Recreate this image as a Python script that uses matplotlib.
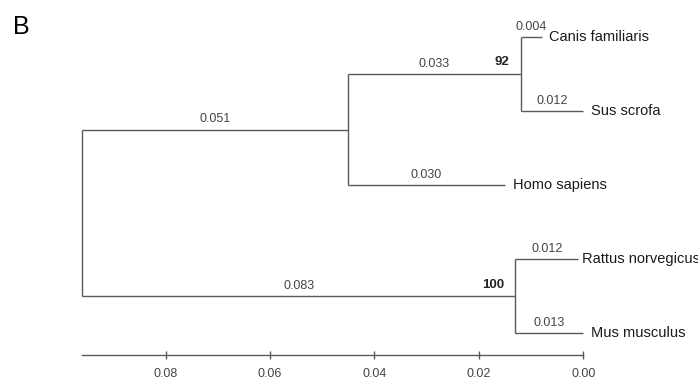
import matplotlib
matplotlib.use("Agg")
import matplotlib.pyplot as plt

plt.rcParams['font.family'] = ['Liberation Sans', 'DejaVu Sans']

# Tree data (branch lengths)
leaves = ["Canis familiaris", "Sus scrofa", "Homo sapiens", "Rattus norvegicus", "Mus musculus"]
root_to_upper = 0.051
upper_to_cs = 0.033
cs_to_canis = 0.004
cs_to_sus = 0.012
upper_to_homo = 0.030
root_to_lower = 0.083
lower_to_rattus = 0.012
lower_to_mus = 0.013
bootstrap_cs = "92"
bootstrap_lower = "100"
tick_values = [0.08, 0.06, 0.04, 0.02, 0.00]
tick_labels = ["0.08", "0.06", "0.04", "0.02", "0.00"]

total_depth = root_to_upper + upper_to_cs + cs_to_sus  # 0.096

fig = plt.figure(figsize=(6.98, 3.81), dpi=100)
ax = fig.add_axes([0, 0, 1, 1])
ax.set_xlim(0.1117, -0.02197)
ax.set_ylim(4.642, -0.4993)

lc = '#5a5a5a'
tc = '#444444'
lw = 1.0

def X(dist):
    return total_depth - dist

# y positions
y_leaf = {name: i for i, name in enumerate(leaves)}
y_cs = (y_leaf["Canis familiaris"] + y_leaf["Sus scrofa"]) / 2
y_upper = (y_cs + y_leaf["Homo sapiens"]) / 2
y_lower = (y_leaf["Rattus norvegicus"] + y_leaf["Mus musculus"]) / 2

d_root = 0.0
d_upper = root_to_upper
d_cs = d_upper + upper_to_cs
d_lower = root_to_lower

def hline(d0, d1, y, label):
    ax.plot([X(d0), X(d1)], [y, y], color=lc, lw=lw, solid_capstyle='butt')
    ax.annotate(label, xy=((X(d0) + X(d1)) / 2, y), xytext=(0, 3),
                textcoords='offset points', ha='center', va='bottom',
                fontsize=9, color=tc)

def vline(d, y0, y1):
    ax.plot([X(d), X(d)], [y0, y1], color=lc, lw=lw, solid_capstyle='butt')

def leaf_label(d, y, name, off=5.5):
    ax.annotate(name, xy=(X(d), y), xytext=(off, 0), textcoords='offset points',
                ha='left', va='center', fontsize=10.5, color='#1a1a1a')

# root
vline(d_root, y_upper, y_lower)
hline(d_root, d_upper, y_upper, f"{root_to_upper:.3f}")
hline(d_root, d_lower, y_lower, f"{root_to_lower:.3f}")
# upper node
vline(d_upper, y_cs, y_leaf["Homo sapiens"])
hline(d_upper, d_cs, y_cs, f"{upper_to_cs:.3f}")
hline(d_upper, d_upper + upper_to_homo, y_leaf["Homo sapiens"], f"{upper_to_homo:.3f}")
leaf_label(d_upper + upper_to_homo, y_leaf["Homo sapiens"], "Homo sapiens")
# cs node
vline(d_cs, y_leaf["Canis familiaris"], y_leaf["Sus scrofa"])
hline(d_cs, d_cs + cs_to_canis, y_leaf["Canis familiaris"], f"{cs_to_canis:.3f}")
hline(d_cs, d_cs + cs_to_sus, y_leaf["Sus scrofa"], f"{cs_to_sus:.3f}")
leaf_label(d_cs + cs_to_canis, y_leaf["Canis familiaris"], "Canis familiaris")
leaf_label(d_cs + cs_to_sus, y_leaf["Sus scrofa"], "Sus scrofa")
# lower node
vline(d_lower, y_leaf["Rattus norvegicus"], y_leaf["Mus musculus"])
hline(d_lower, d_lower + lower_to_rattus, y_leaf["Rattus norvegicus"], f"{lower_to_rattus:.3f}")
hline(d_lower, d_lower + lower_to_mus, y_leaf["Mus musculus"], f"{lower_to_mus:.3f}")
leaf_label(d_lower + lower_to_rattus, y_leaf["Rattus norvegicus"], "Rattus norvegicus", off=2.5)
leaf_label(d_lower + lower_to_mus, y_leaf["Mus musculus"], "Mus musculus")

# bootstrap values
ax.annotate(bootstrap_cs, xy=(X(d_cs), y_cs), xytext=(-8, 4), textcoords='offset points',
            ha='right', va='bottom', fontsize=9.5, fontweight='bold', color='#222222')
ax.annotate(bootstrap_lower, xy=(X(d_lower), y_lower), xytext=(-8, 4), textcoords='offset points',
            ha='right', va='bottom', fontsize=9.5, fontweight='bold', color='#222222')

# scale axis
for s in ['top', 'left', 'right']:
    ax.spines[s].set_visible(False)
ax.spines['bottom'].set_position(('data', 4.296))
ax.spines['bottom'].set_bounds(total_depth, 0.0)
ax.spines['bottom'].set_color(lc)
ax.spines['bottom'].set_linewidth(lw)
ax.set_xticks(tick_values)
ax.set_xticklabels(tick_labels)
ax.tick_params(axis='x', direction='inout', length=6, width=lw, color=lc,
               labelsize=9, labelcolor=tc, pad=6)
ax.set_yticks([])

fig.text(13 / 698, 1 - 27 / 381, "B", fontsize=18, ha='left', va='center', color='black')

fig.savefig("out.png", dpi=100)
